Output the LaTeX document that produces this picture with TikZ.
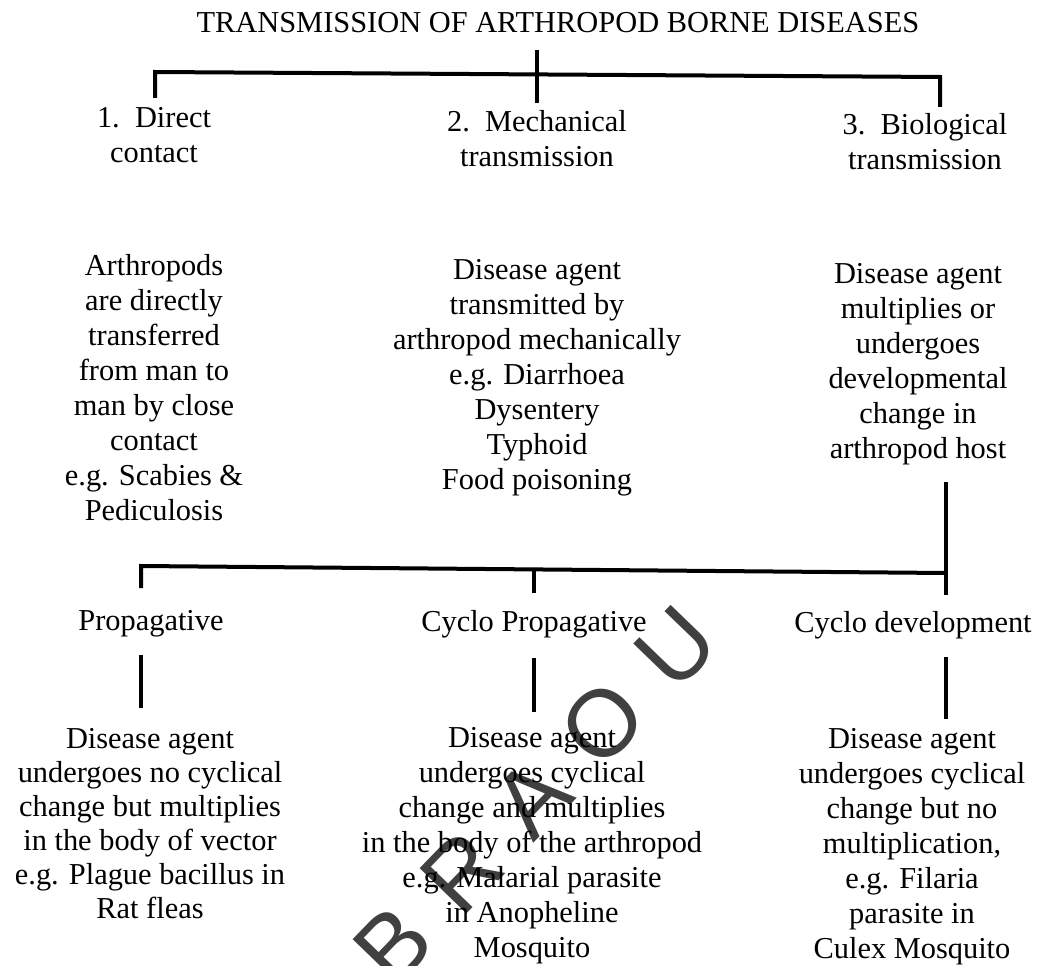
\documentclass[tikz,border=0pt]{standalone}
\usepackage{fontspec}
\setmainfont{Liberation Serif}
\newfontfamily\wmfont{Liberation Sans}
\begin{document}
\begin{tikzpicture}[x=0.75pt,y=-0.75pt,
  txt/.style={font=\fontsize{22.8}{26.25}\selectfont, inner sep=0pt, anchor=base, align=center},
  txtb/.style={txt, font=\fontsize{22.8}{25.5}\selectfont},
  tree/.style={line width=3pt, line join=miter, line cap=butt},
  wm/.style={font=\wmfont\fontsize{71}{71}\selectfont, text=black!75, rotate=46, inner sep=0pt}]
\fill[white] (0,0) rectangle (1038,966);
\useasboundingbox (0,0) rectangle (1038,966);

% watermark
\node[wm] (wB) at (393,945) {B};
\node[wm] (wR) at (462,872) {R};
\node[wm] (wA) at (532,798) {A};
\node[wm] (wO) at (603,723) {O};
\node[wm] (wU) at (676,648) {U};

% title and first level (base anchor = baseline of last line)
\node[txt] (title) at (558,33) {TRANSMISSION OF ARTHROPOD BORNE DISEASES};
\node[txt] (d1) at (154,163) {1.\ \ Direct\\contact};
\node[txt] (d2) at (537,167) {2.\ \ Mechanical\\transmission};
\node[txt] (d3) at (925,170) {3.\ \ Biological\\transmission};

\node[txt] (p1) at (154,520) {Arthropods\\are directly\\transferred\\from man to\\man by close\\contact\\e.g. Scabies \&\\Pediculosis};
\node[txt] (p2) at (537,489) {Disease agent\\transmitted by\\arthropod mechanically\\e.g. Diarrhoea\\Dysentery\\Typhoid\\Food poisoning};
\node[txt] (p3) at (918,458) {Disease agent\\multiplies or\\undergoes\\developmental\\change in\\arthropod host};

% second level
\node[txt] (c1) at (151,630) {Propagative};
\node[txt] (c2) at (534,631) {Cyclo Propagative};
\node[txt] (c3) at (913,632) {Cyclo development};

\node[txtb] (b1) at (150,918) {Disease agent\\undergoes no cyclical\\change but multiplies\\in the body of vector\\e.g. Plague bacillus in\\Rat fleas};
\node[txt] (b2) at (532,957) {Disease agent\\undergoes cyclical\\change and multiplies\\in the body of the arthropod\\e.g. Malarial parasite\\in Anopheline\\Mosquito};
\node[txt] (b3) at (912,958) {Disease agent\\undergoes cyclical\\change but no\\multiplication,\\e.g. Filaria\\parasite in\\Culex Mosquito};

% connector points
\coordinate (s1) at (537,50);
\coordinate (s2) at (537,103);
\coordinate (bl) at (155,72);
\coordinate (br) at (940,77);
\coordinate (bld) at (155,98);
\coordinate (brd) at (940,107);

\coordinate (v1) at (946,482);
\coordinate (v2) at (946,595);
\coordinate (cl) at (141,566);
\coordinate (cr) at (946,573);
\coordinate (cld) at (141,588);
\coordinate (cm) at (534,569.4);
\coordinate (cmd) at (534,593);

\coordinate (e1a) at (141,655);
\coordinate (e1b) at (141,708);
\coordinate (e2a) at (534,658);
\coordinate (e2b) at (534,712);
\coordinate (e3a) at (946,657);
\coordinate (e3b) at (946,719);

\draw[tree] (s1) -- (s2);
\draw[tree] (bld) -- (bl) -- (br) -- (brd);
\draw[tree] (v1) -- (v2);
\draw[tree] (cld) -- (cl) -- (cr);
\draw[tree] (cm) -- (cmd);
\draw[tree] (e1a) -- (e1b);
\draw[tree] (e2a) -- (e2b);
\draw[tree] (e3a) -- (e3b);
\end{tikzpicture}
\end{document}
